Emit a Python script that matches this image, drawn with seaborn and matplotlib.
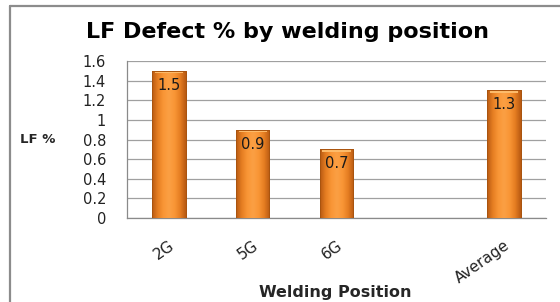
import numpy as np
import pandas as pd
import seaborn as sns
import matplotlib.pyplot as plt
from matplotlib.colors import LinearSegmentedColormap
from matplotlib.patches import Rectangle
from matplotlib.lines import Line2D

# data
positions = ["2G", "5G", "6G", " ", "Average"]
lf_pct = [1.5, 0.9, 0.7, np.nan, 1.3]
x_tick_labels = ["2G", "5G", "6G", "", "Average"]
y_ticks = [0, 0.2, 0.4, 0.6, 0.8, 1, 1.2, 1.4, 1.6]
y_tick_labels = ["0", "0.2", "0.4", "0.6", "0.8", "1", "1.2", "1.4", "1.6"]

df = pd.DataFrame({"pos": positions, "lf": lf_pct})

sns.set_style("white")
plt.rcParams["font.family"] = ["DejaVu Sans"]

fig = plt.figure(figsize=(5.6, 3.02), dpi=100)
ax = fig.add_axes([0.2268, 0.278, 0.975 - 0.2268, 0.798 - 0.278])

sns.barplot(data=df.dropna(), x="pos", y="lf", order=positions, color="#F7922E",
            width=0.4, edgecolor="#B35A12", linewidth=0.6, ax=ax, zorder=3)

# gradient fill on bars
cmap = LinearSegmentedColormap.from_list(
    "orng", ["#B85A12", "#E67E22", "#F99636", "#FBA044", "#F99636", "#E67E22", "#B85A12"])
grad = np.linspace(0, 1, 64).reshape(1, -1)
for p in ax.patches:
    x0, y0 = p.get_x(), p.get_y()
    w, h = p.get_width(), p.get_height()
    if not np.isfinite(h) or h == 0:
        continue
    im = ax.imshow(grad, cmap=cmap, aspect="auto", extent=[x0, x0 + w, y0, y0 + h],
                   zorder=4, interpolation="bicubic")
    im.set_clip_path(p)
    # top bevel highlight
    ax.add_patch(Rectangle((x0 + w * 0.08, y0 + h - 0.025), w * 0.84, 0.02,
                           facecolor="#FDBB6A", edgecolor="none", zorder=5))
    ax.add_patch(Rectangle((x0, y0), w, h, facecolor="none", edgecolor="#A9540F",
                           linewidth=0.7, zorder=6))

# value labels inside the bars
for i, v in enumerate(lf_pct):
    if np.isfinite(v):
        ax.text(i, v - 0.07, f"{v:g}", ha="center", va="top", fontsize=10.5,
                color="#1a1a1a", zorder=7)

ax.set_ylim(0, 1.6)
ax.set_xlim(-0.5, len(positions) - 0.5)
ax.set_yticks(y_ticks)
ax.set_yticklabels(y_tick_labels, fontsize=10.5, color="#222222")
ax.yaxis.grid(True, color="#a0a0a0", linewidth=0.9, zorder=0)
ax.set_axisbelow(True)

ax.set_xticks(range(len(positions)))
ax.set_xticklabels(x_tick_labels, rotation=35, fontsize=11, ha="right", va="top",
                   rotation_mode="anchor", color="#222222")
ax.tick_params(axis="x", length=0, pad=14)
ax.set_xticks(np.arange(-0.5, len(positions)), minor=True)
ax.tick_params(axis="x", which="minor", length=5, color="#8a8a8a", width=0.9)
ax.tick_params(axis="y", length=5, color="#8a8a8a", width=0.9, pad=10)

for s in ["top", "right"]:
    ax.spines[s].set_visible(False)
ax.spines["left"].set_color("#8a8a8a")
ax.spines["bottom"].set_color("#8a8a8a")
ax.spines["left"].set_linewidth(0.9)
ax.spines["bottom"].set_linewidth(0.9)

ax.set_xlabel("")
ax.set_ylabel("")
fig.text(0.068, 0.537, "LF %", fontsize=9.5, fontweight="bold", ha="center", va="center")
fig.text(0.598, 0.03, "Welding Position", fontsize=11.5, fontweight="bold",
         ha="center", va="center")
fig.text(0.514, 0.893, "LF Defect % by welding position", fontsize=16,
         fontweight="bold", ha="center", va="center", color="black")

# chart frame (left and top visible)
fig.add_artist(Line2D([10 / 560, 10 / 560], [0, 1 - 6 / 302], transform=fig.transFigure,
                      color="#8c8c8c", linewidth=1.6))
fig.add_artist(Line2D([10 / 560, 1], [1 - 6 / 302, 1 - 6 / 302], transform=fig.transFigure,
                      color="#8c8c8c", linewidth=1.6))

fig.savefig("out.png", dpi=100)
